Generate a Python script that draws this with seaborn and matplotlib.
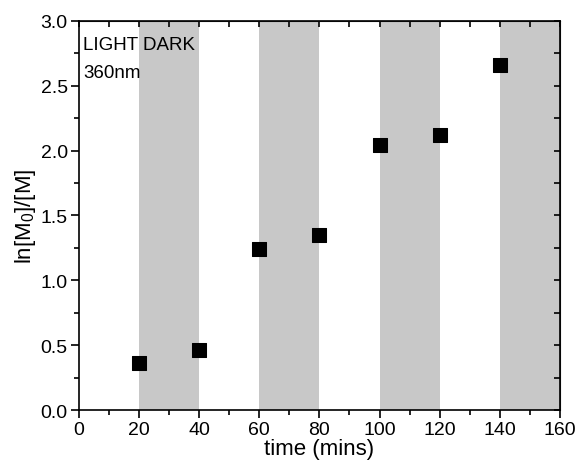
import numpy as np
import pandas as pd
import matplotlib.pyplot as plt
import seaborn as sns
from matplotlib.ticker import MultipleLocator

time = [20, 40, 60, 80, 100, 120, 140]
ln_ratio = [0.36, 0.46, 1.24, 1.35, 2.04, 2.12, 2.66]
dark_starts = [20, 60, 100, 140]
dark_ends = [40, 80, 120, 160]

sns.set_style('ticks')
plt.rcParams['font.family'] = ['Liberation Sans', 'DejaVu Sans']
plt.rcParams['mathtext.fontset'] = 'custom'
plt.rcParams['mathtext.rm'] = 'Liberation Sans'
plt.rcParams['mathtext.it'] = 'Liberation Sans'
plt.rcParams['text.color'] = 'black'
plt.rcParams['axes.labelcolor'] = 'black'
plt.rcParams['xtick.color'] = 'black'
plt.rcParams['ytick.color'] = 'black'

fig = plt.figure(figsize=(5.75, 4.64), dpi=100)
ax = fig.add_axes([0.137, 0.114, 0.837, 0.839])

for a, b in zip(dark_starts, dark_ends):
    ax.axvspan(a, b, color='#c8c8c8', lw=0, zorder=0)

df = pd.DataFrame({'time': time, 'ln': ln_ratio})
sns.scatterplot(data=df, x='time', y='ln', marker='s', color='black', s=90,
                edgecolor='black', ax=ax, zorder=3)

ax.set_xlim(0, 160)
ax.set_ylim(0, 3.0)
ax.xaxis.set_major_locator(MultipleLocator(20))
ax.xaxis.set_minor_locator(MultipleLocator(10))
ax.yaxis.set_major_locator(MultipleLocator(0.5))
ax.yaxis.set_minor_locator(MultipleLocator(0.25))
ax.tick_params(which='both', direction='out', labelsize=14, width=1.2, pad=2)
ax.tick_params(which='major', length=6)
ax.tick_params(which='minor', length=3.5)
ax.yaxis.set_major_formatter(plt.FormatStrFormatter('%.1f'))

# inward ticks on top and right
top = ax.secondary_xaxis('top')
top.set_xticks(np.arange(0, 161, 10))
top.tick_params(direction='in', length=4, width=1.2, labeltop=False)
right = ax.secondary_yaxis('right')
right.set_yticks(np.arange(0, 3.01, 0.25))
right.tick_params(direction='in', length=4, width=1.2, labelright=False)

for s in ax.spines.values():
    s.set_linewidth(1.2)
    s.set_color('black')

ax.set_xlabel('time (mins)', fontsize=16, labelpad=0)
ax.set_ylabel('ln[M$_0$]/[M]', fontsize=16, labelpad=2)

ax.text(1.5, 2.82, 'LIGHT DARK', fontsize=13.5, va='center')
ax.text(1.5, 2.60, '360nm', fontsize=13.5, va='center')

fig.savefig('out.png', dpi=100)
